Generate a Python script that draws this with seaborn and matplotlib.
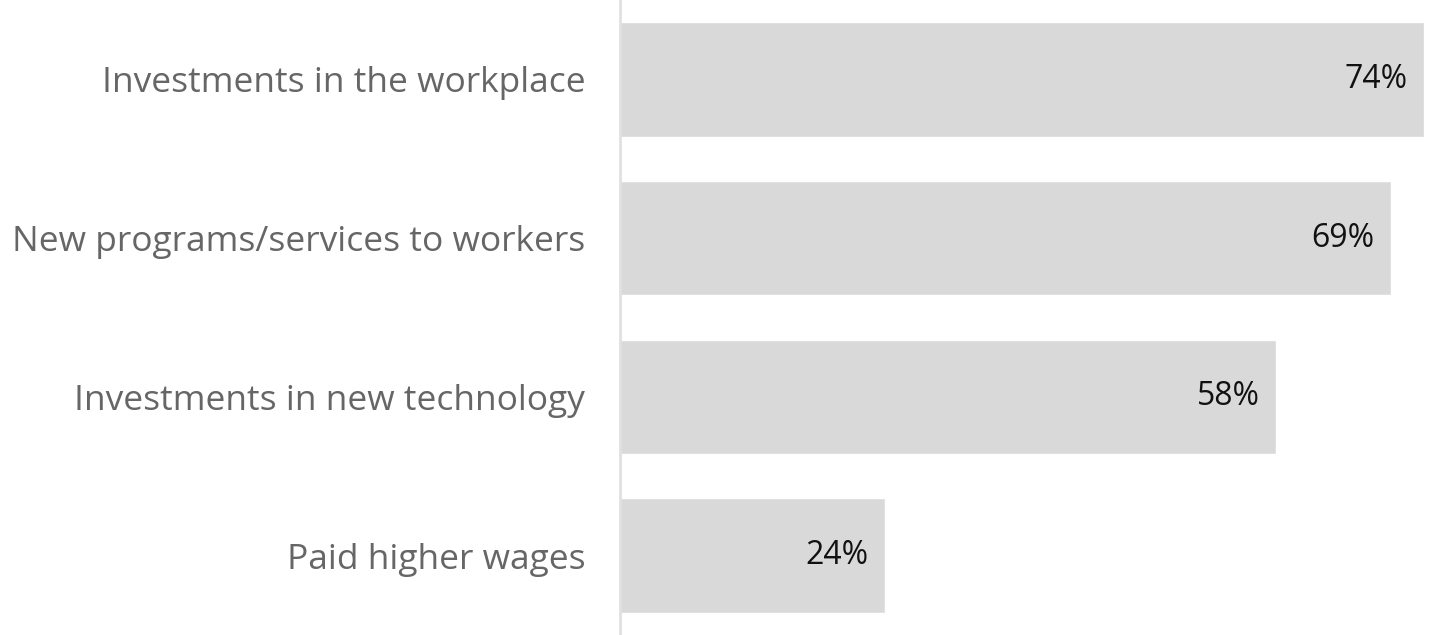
import matplotlib
matplotlib.use("Agg")
import matplotlib.pyplot as plt
import seaborn as sns
import pandas as pd

categories = ["Investments in the workplace", "New programs/services to workers",
              "Investments in new technology", "Paid higher wages"]
# bar lengths as drawn in the picture (percent)
bar_values = [74, 71, 60.4, 24.4]
value_labels = ["74%", "69%", "58%", "24%"]

df = pd.DataFrame({"category": categories, "value": bar_values})

sns.set_theme(style="white")
plt.rcParams['font.family'] = ['Open Sans', 'DejaVu Sans']

fig = plt.figure(figsize=(14.5, 6.35), dpi=100)
ax = fig.add_axes([620/1450, 0, 830/1450, 1])
sns.barplot(data=df, y="category", x="value", color="#d9d9d9", saturation=1,
            width=0.72, ax=ax, orient="h")
ax.set_xlim(0, 76.4)
ax.set_ylim(3.5, -0.5)
for s in ["top", "right", "bottom"]:
    ax.spines[s].set_visible(False)
ax.spines["left"].set_color("#e0e0e0")
ax.spines["left"].set_linewidth(2)
ax.set_xticks([])
ax.set_xlabel("")
ax.set_ylabel("")
ax.tick_params(axis="y", length=0, pad=25, labelsize=25.5, labelcolor="#666666")
for i, (v, lab) in enumerate(zip(bar_values, value_labels)):
    ax.annotate(lab, xy=(v, i), xytext=(-12, 0), textcoords="offset points",
                ha="right", va="center", fontsize=23, color="#111111")
fig.savefig("out.png", dpi=100)
